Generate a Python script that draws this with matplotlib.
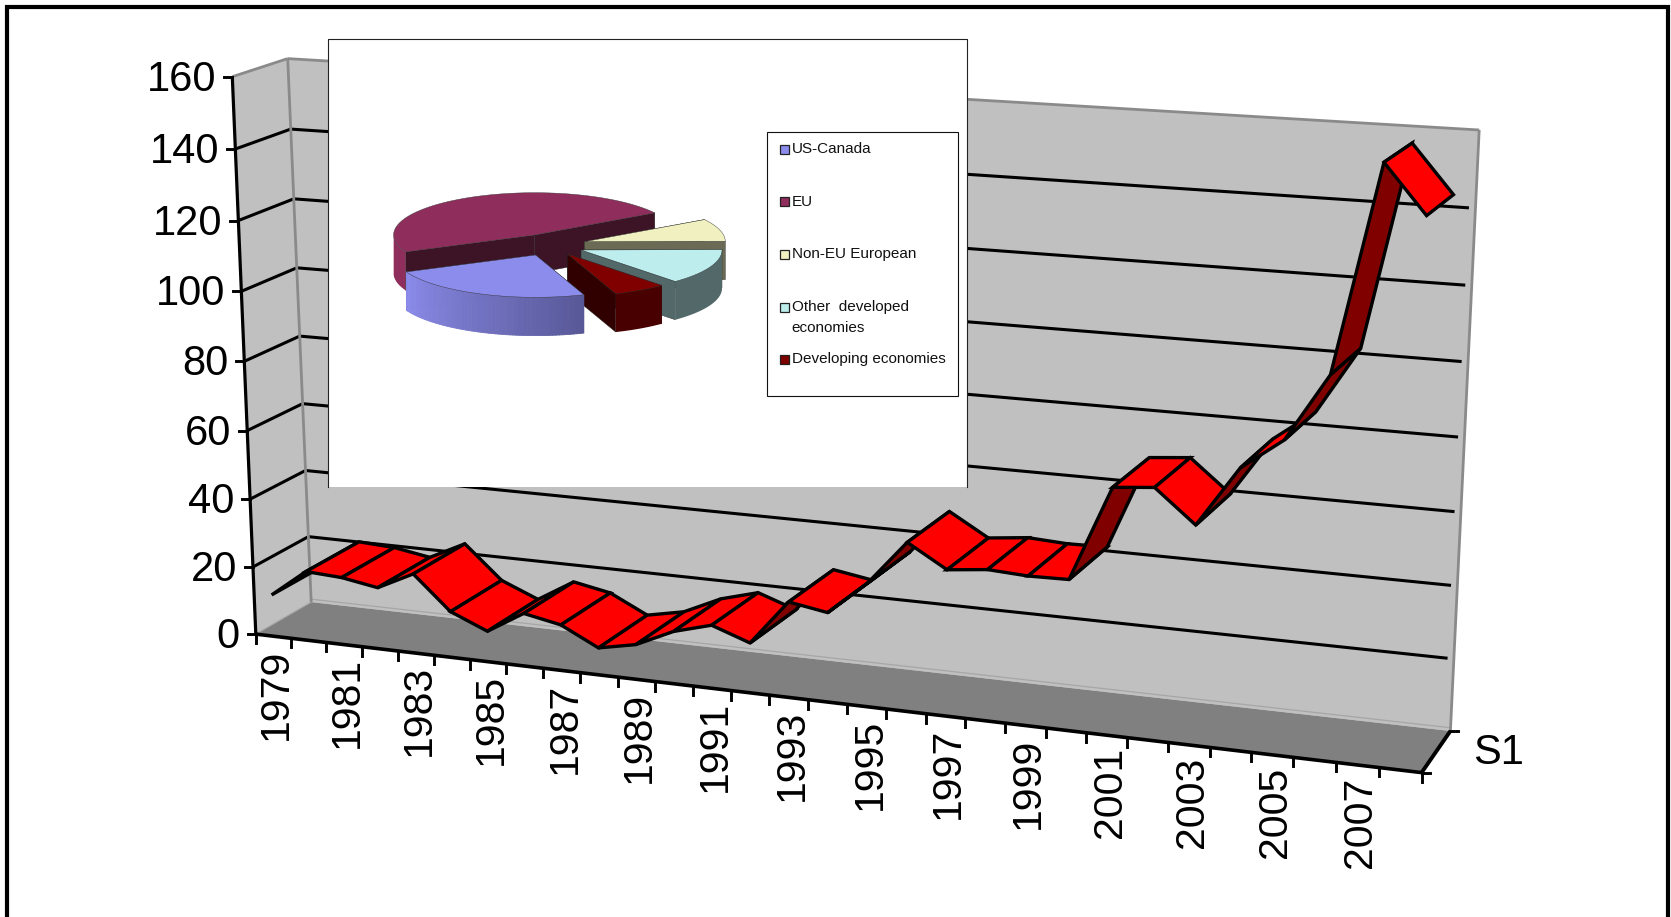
import numpy as np
import matplotlib
matplotlib.use("Agg")
import matplotlib.pyplot as plt
from matplotlib.patches import Polygon, Rectangle
from matplotlib.collections import PolyCollection

plt.rcParams['font.family'] = ['Liberation Sans', 'DejaVu Sans']

# Ribbon series
years = list(range(1979, 2009))
values = [12.3, 20.4, 19.8, 18.0, 23.2, 13.4, 8.9, 15.3, 13.2, 7.8,
          10.0, 15.0, 18.0, 14.2, 27.0, 25.2, 34.5, 47.0, 40.6, 41.8,
          41.2, 41.4, 67.3, 68.3, 59.4, 75.5, 83.8, 101.6, 155.8, 143.3]
value_ticks = [0, 20, 40, 60, 80, 100, 120, 140, 160]
series_label = "S1"

# Pie series, clockwise
pie_labels = ["US-Canada", "EU", "Non-EU European", "Other  developed\neconomies", "Developing economies"]
pie_shares = [24.0, 47.8, 8.6, 13.5, 6.1]

W, H = 1671, 917
fig = plt.figure(figsize=(W / 100, H / 100), dpi=100, facecolor='white')
ax = fig.add_axes([0, 0, 1, 1])
ax.set_xlim(0, W)
ax.set_ylim(H, 0)
ax.axis('off')


def homography(corners):
    """Map the unit square onto four pixel corners (00, 10, 11, 01)."""
    src = [(0, 0), (1, 0), (1, 1), (0, 1)]
    A, b = [], []
    for (u, v), (x, y) in zip(src, corners):
        A.append([u, v, 1, 0, 0, 0, -u * x, -v * x])
        A.append([0, 0, 0, u, v, 1, -u * y, -v * y])
        b += [x, y]
    return np.append(np.linalg.solve(np.array(A, float), np.array(b, float)), 1).reshape(3, 3)


# Perspective frame of the 3-D box
FRONT = homography([(255.8, 634.1), (1421.6, 772.6), (1452.5, 149.2), (232.3, 76.7)])
BACK = homography([(311.2, 602.1), (1450.4, 731.0), (1479.2, 130.0), (287.7, 58.6)])
N_CAT = len(years)
V_MAX = value_ticks[-1]


def proj(cat, val, depth=0.0):
    u = cat / N_CAT
    u = u + 0.012 * u * (1 - u)  # slightly flatter foreshortening along the long wall
    p = np.array([u, val / V_MAX, 1.0])
    f = FRONT @ p
    b = BACK @ p
    f = f[:2] / f[2]
    b = b[:2] / b[2]
    return f + (b - f) * depth


def line(a, b, color='black', lw=2.2, z=3, cap='butt'):
    ax.plot([a[0], b[0]], [a[1], b[1]], color=color, lw=lw, zorder=z, solid_capstyle=cap)


# Walls and floor
GREY_WALL, GREY_FLOOR, GREY_EDGE = '#C0C0C0', '#808080', '#8A8A8A'
ax.add_patch(Polygon([proj(0, 0, 0), proj(0, V_MAX, 0), proj(0, V_MAX, 1), proj(0, 0, 1)],
                     fc=GREY_WALL, ec='none', zorder=1))
ax.add_patch(Polygon([proj(0, 0, 1), proj(0, V_MAX, 1), proj(N_CAT, V_MAX, 1), proj(N_CAT, 0, 1)],
                     fc=GREY_WALL, ec='none', zorder=1))
ax.add_patch(Polygon([proj(0, 0, 0), proj(N_CAT, 0, 0), proj(N_CAT, 0, 1), proj(0, 0, 1)],
                     fc=GREY_FLOOR, ec='none', zorder=2))
line(proj(0, 0.9, 1), proj(N_CAT, 0.9, 1), color='#A6A6A6', lw=0.9, z=2.5)
line(proj(0, 0, 0), proj(0, 0, 1), color='#A6A6A6', lw=0.8, z=2.5)

# Gridlines on the side wall and the back wall
for v in value_ticks[1:-1]:
    line(proj(0, v, 0), proj(0, v, 1))
    line(proj(0, v, 1), proj(N_CAT - 0.15, v, 1))

# Grey outline of the walls
line(proj(0, V_MAX, 0), proj(0, V_MAX, 1), color=GREY_EDGE, lw=2.0, z=4)
line(proj(0, V_MAX, 1), proj(N_CAT, V_MAX, 1), color=GREY_EDGE, lw=2.0, z=4)
line(proj(0, V_MAX, 1), proj(0, 0, 1), color=GREY_EDGE, lw=2.0, z=4)
line(proj(N_CAT, V_MAX, 1), proj(N_CAT, 0, 1), color=GREY_EDGE, lw=2.0, z=4)

# Ribbon: one quad per year step, dark where its underside faces the viewer
DEPTH_FAR = 0.97
for i in range(N_CAT - 1):
    a = proj(i + 0.5, values[i], 0)
    b = proj(i + 1.5, values[i + 1], 0)
    c = proj(i + 1.5, values[i + 1], DEPTH_FAR)
    d = proj(i + 0.5, values[i], DEPTH_FAR)
    quad = np.array([a, b, c, d])
    x, y = quad[:, 0], quad[:, 1]
    area = 0.5 * np.sum(x * np.roll(y, -1) - np.roll(x, -1) * y)
    color = '#FF0000' if area < 0 else '#800000'
    ax.add_patch(Polygon(quad, fc=color, ec='black', lw=2.4, joinstyle='miter', zorder=5 + i * 0.01))

# Axes, ticks and labels
line(proj(0, 0, 0), proj(0, V_MAX, 0), lw=2.3, z=7)
line(proj(0, 0, 0), proj(N_CAT, 0, 0), lw=2.6, z=7)
line(proj(N_CAT, 0, 0), proj(N_CAT, 0, 1), lw=2.8, z=7)
for v in value_ticks:
    px, py = proj(0, v, 0)
    ax.plot([px - 8, px], [py, py], color='black', lw=2.1, zorder=7)
    ax.text(px - 16, py + 3, str(v), ha='right', va='center', fontsize=30, color='black', zorder=7)
for c in range(N_CAT + 1):
    px, py = proj(c, 0, 0)
    ax.plot([px, px], [py, py + 9], color='black', lw=2.1, zorder=7)
for i in range(0, N_CAT, 2):
    px, py = proj(i + 0.5, 0, 0)
    ax.text(px + 3, py + 12, str(years[i]), rotation=90, ha='center', va='top', fontsize=29.5, color='black', zorder=7)
for d in (0, 1):
    px, py = proj(N_CAT, 0, d)
    ax.plot([px, px + 8], [py, py], color='black', lw=2.1, zorder=7)
sx, sy = proj(N_CAT, 0, 0.5)
ax.text(sx + 37, sy + 1, series_label, ha='left', va='center', fontsize=30, color='black', zorder=7)

# Inset panel with the pie chart
Z = 10
PANEL = (328.2, 39.4, 966.5, 487)
ax.add_patch(Rectangle((PANEL[0], PANEL[1]), PANEL[2] - PANEL[0], PANEL[3] - PANEL[1], fc='white', ec='none', zorder=Z))
ax.plot([PANEL[0], PANEL[0], PANEL[2], PANEL[2]], [PANEL[3], PANEL[1], PANEL[1], PANEL[3]],
        color='#222222', lw=0.8, zorder=Z + 0.1)

RX, RY, THICK = 141.0, 42.3, 38.3
slice_style = [
    # centre, top colour, wall colour, cut-face colour
    ((535.6, 255.0), '#8C8CEC', None, '#5A5A9A'),
    ((534.6, 235.0), '#8F2D5C', '#8F2D5C', '#3D1326'),
    ((584.3, 241.7), '#F0F0C0', '#6B6B55', '#6B6B55'),
    ((581.0, 250.0), '#BDEDED', '#536969', '#536969'),
    ((567.5, 254.0), '#800000', '#480000', '#300000'),
]
START_ANGLE = 290.0
edges = START_ANGLE - 360.0 * np.cumsum([0] + pie_shares) / sum(pie_shares)
spans = [(edges[k + 1], edges[k]) for k in range(len(pie_shares))]


def rim(c, t, dz=0.0):
    t = np.radians(t)
    return np.column_stack([c[0] + RX * np.cos(t), c[1] - RY * np.sin(t) + dz])


def draw_slice(k, z):
    c, top, wall, face = slice_style[k]
    t1, t2 = spans[k]
    ts = np.linspace(t1, t2, 80)
    # Cut faces, the hidden one first
    for t in (t2, t1):
        p = rim(c, [t])[0]
        ax.add_patch(Polygon([c, p, p + (0, THICK), (c[0], c[1] + THICK)], fc=face, ec='#222222', lw=0.3, zorder=z))
    # Outer wall on the part of the rim that faces the viewer
    front = ts[np.sin(np.radians(ts)) <= 0.001]
    if len(front) > 1:
        if wall is None:
            c0, c1 = np.array([0x8C, 0x8C, 0xEC]) / 255, np.array([0x58, 0x58, 0x98]) / 255
            fine = np.linspace(front[0], front[-1], 60)
            quads = [np.vstack([rim(c, fine[j:j + 2]), rim(c, fine[j:j + 2][::-1], THICK)]) for j in range(len(fine) - 1)]
            cols = [c0 + (c1 - c0) * (j / (len(quads) - 1)) for j in range(len(quads))]
            ax.add_collection(PolyCollection(quads, facecolors=cols, edgecolors=cols, linewidths=0.6, zorder=z))
        else:
            ax.add_patch(Polygon(np.vstack([rim(c, front), rim(c, front[::-1], THICK)]), fc=wall, ec='none', zorder=z))
    ax.add_patch(Polygon(np.vstack([[c], rim(c, ts)]), fc=top, ec='#333333', lw=0.3, zorder=z))


for order, k in enumerate([1, 2, 3, 4, 0]):
    draw_slice(k, Z + 0.2 + order * 0.1)

# Legend of the pie chart
ax.add_patch(Rectangle((767.4, 132.3), 190.2, 263.4, fc='white', ec='#111111', lw=0.8, zorder=Z + 1))
legend_rows = [149.3, 201.7, 254.3, 307.7, 359.3]
for k, (label, y0) in enumerate(zip(pie_labels, legend_rows)):
    ax.add_patch(Rectangle((779.6, y0 - 4.5), 9, 9, fc=slice_style[k][1], ec='#222222', lw=0.9, zorder=Z + 1.1))
    ax.text(791.5, y0 - 7.5 if '\n' in label else y0, label, ha='left', va='top' if '\n' in label else 'center',
            fontsize=11.0, color='#111111', linespacing=1.6, zorder=Z + 1.1)

# Outer frame, open at the bottom
ax.plot([7, 7, 1668, 1668], [H, 7, 7, H], color='black', lw=3.0, solid_joinstyle='miter', zorder=20)

fig.savefig('out.png', dpi=100)
